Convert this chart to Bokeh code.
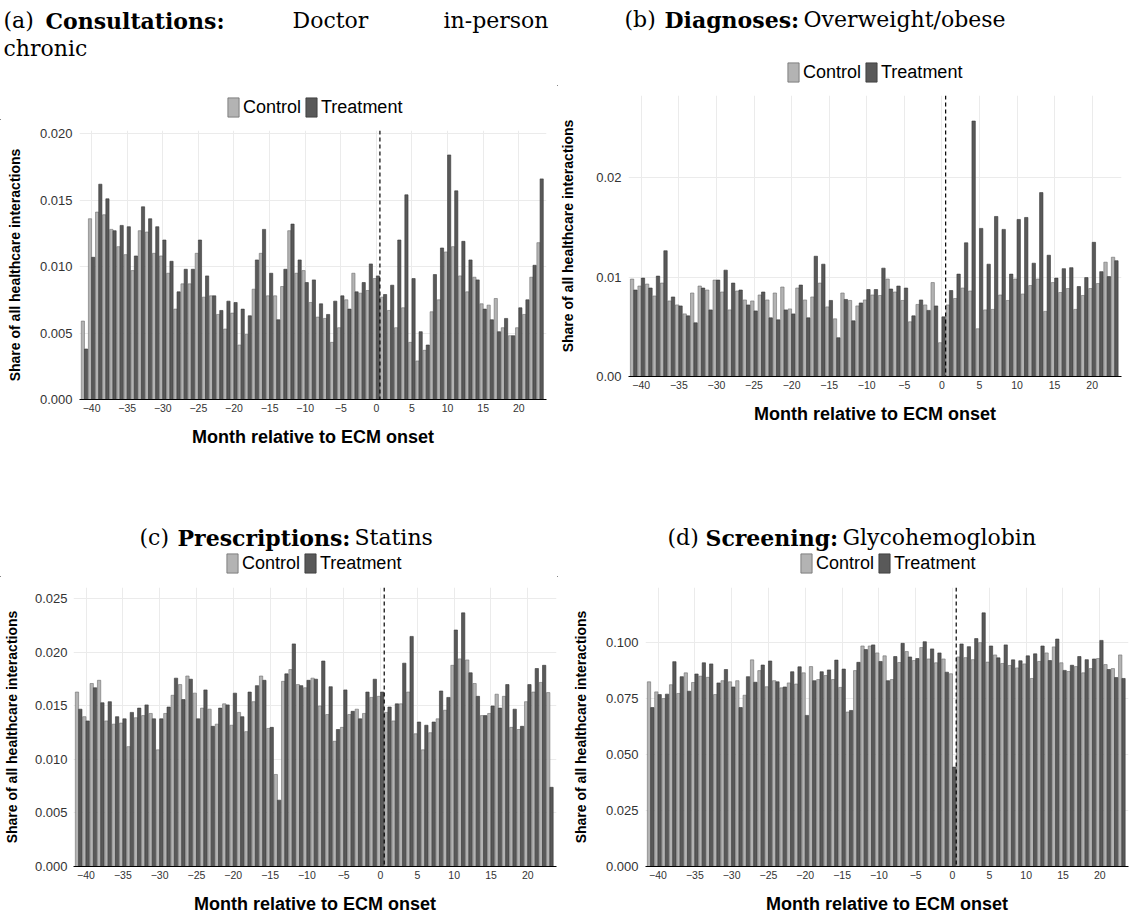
from bokeh.plotting import figure
from bokeh.models import (Range1d, FixedTicker, PrintfTickFormatter, Span, Legend,
                          LegendItem, ColumnDataSource)
from bokeh.layouts import row, column
from bokeh.transform import dodge
from bokeh.core.properties import value
from bokeh.embed import file_html
from bokeh.resources import INLINE

# ---------------- data ----------------
months = list(range(-41, 24))
x_ticks = [-40, -35, -30, -25, -20, -15, -10, -5, 0, 5, 10, 15, 20]

consult_control = [0.0059, 0.0136, 0.0141, 0.0139, 0.0128, 0.0115, 0.0109, 0.0097, 0.0127, 0.0126,
                   0.0110, 0.0108, 0.0095, 0.0068, 0.0087, 0.0087, 0.0110, 0.0077, 0.0078, 0.0064,
                   0.0053, 0.0065, 0.0041, 0.0049, 0.0083, 0.0110, 0.0078, 0.0078, 0.0085, 0.0127,
                   0.0095, 0.0097, 0.0073, 0.0062, 0.0061, 0.0043, 0.0054, 0.0075, 0.0095, 0.0080,
                   0.0082, 0.0091, 0.0077, 0.0067, 0.0054, 0.0069, 0.0043, 0.0029, 0.0037, 0.0066,
                   0.0075, 0.0111, 0.0115, 0.0093, 0.0081, 0.0092, 0.0072, 0.0071, 0.0076, 0.0054,
                   0.0048, 0.0054, 0.0064, 0.0092, 0.0118]
consult_treatment = [0.0038, 0.0107, 0.0162, 0.0151, 0.0127, 0.0131, 0.0130, 0.0108, 0.0145, 0.0136,
                     0.0130, 0.0120, 0.0104, 0.0081, 0.0098, 0.0098, 0.0120, 0.0093, 0.0078, 0.0067,
                     0.0074, 0.0073, 0.0068, 0.0063, 0.0105, 0.0128, 0.0095, 0.0060, 0.0098, 0.0132,
                     0.0105, 0.0088, 0.0090, 0.0072, 0.0064, 0.0074, 0.0078, 0.0068, 0.0081, 0.0088,
                     0.0102, 0.0093, 0.0079, 0.0086, 0.0120, 0.0154, 0.0091, 0.0051, 0.0041, 0.0094,
                     0.0114, 0.0184, 0.0157, 0.0119, 0.0105, 0.0090, 0.0068, 0.0060, 0.0051, 0.0061,
                     0.0048, 0.0069, 0.0075, 0.0101, 0.0166]

diag_control = [0.0098, 0.0091, 0.0093, 0.0081, 0.0094, 0.0076, 0.0072, 0.0063, 0.0084, 0.0091,
                0.0087, 0.0097, 0.0085, 0.0067, 0.0086, 0.0077, 0.0076, 0.0082, 0.0077, 0.0084,
                0.0090, 0.0068, 0.0089, 0.0077, 0.0080, 0.0094, 0.0070, 0.0058, 0.0084, 0.00765,
                0.0071, 0.0077, 0.0082, 0.00815, 0.0098, 0.0085, 0.00765, 0.0055, 0.00725, 0.0072,
                0.00945, 0.0034, 0.0072, 0.00785, 0.0089, 0.0086, 0.0048, 0.0067, 0.00675, 0.0082,
                0.00765, 0.0098, 0.0083, 0.00915, 0.0098, 0.00655, 0.00945, 0.00845, 0.00885, 0.00675,
                0.00815, 0.00885, 0.00935, 0.0115, 0.0120]
diag_treatment = [0.0087, 0.0099, 0.0089, 0.0101, 0.01265, 0.0080, 0.0071, 0.0061, 0.0054, 0.0089,
                  0.0067, 0.0097, 0.0107, 0.0094, 0.0087, 0.0072, 0.0066, 0.0085, 0.0059, 0.0057,
                  0.0067, 0.0063, 0.0092, 0.0059, 0.0121, 0.0113, 0.00765, 0.0039, 0.00775, 0.0056,
                  0.0074, 0.00875, 0.00875, 0.0109, 0.0088, 0.0091, 0.0089, 0.0061, 0.0077, 0.00665,
                  0.0071, 0.0060, 0.00865, 0.0103, 0.01345, 0.0257, 0.0149, 0.0113, 0.0161, 0.0148,
                  0.0103, 0.0158, 0.0160, 0.0114, 0.0185, 0.0122, 0.0099, 0.01085, 0.01095, 0.00905,
                  0.00995, 0.0135, 0.01055, 0.01005, 0.01165]

statin_control = [0.0163, 0.0140, 0.0171, 0.0174, 0.0136, 0.0133, 0.0134, 0.0112, 0.0139, 0.0141,
                  0.0143, 0.0109, 0.0143, 0.0160, 0.0170, 0.0178, 0.0162, 0.0148, 0.0147, 0.0133,
                  0.0152, 0.0132, 0.0144, 0.0126, 0.0154, 0.0178, 0.0129, 0.0086, 0.0173, 0.0184,
                  0.0170, 0.0167, 0.0176, 0.0150, 0.0142, 0.0117, 0.0130, 0.0142, 0.0147, 0.0143,
                  0.0158, 0.0159, 0.0144, 0.0136, 0.0152, 0.0163, 0.0124, 0.0109, 0.0125, 0.0138,
                  0.0146, 0.0188, 0.0194, 0.0193, 0.0171, 0.0141, 0.0143, 0.0161, 0.0159, 0.0130,
                  0.0128, 0.0154, 0.0163, 0.0172, 0.01625]
statin_treatment = [0.0147, 0.0136, 0.0167, 0.0153, 0.0154, 0.0140, 0.0138, 0.0144, 0.0148, 0.0151,
                    0.0138, 0.0138, 0.0149, 0.0176, 0.0156, 0.0175, 0.0138, 0.0165, 0.0131, 0.0148,
                    0.0151, 0.0162, 0.0140, 0.0163, 0.0169, 0.0174, 0.0130, 0.0062, 0.0180, 0.0208,
                    0.0169, 0.0174, 0.0175, 0.0192, 0.0168, 0.0128, 0.0165, 0.0145, 0.0138, 0.0163,
                    0.0175, 0.0163, 0.0149, 0.0152, 0.0190, 0.0215, 0.0135, 0.0132, 0.0135, 0.0164,
                    0.0158, 0.0221, 0.0237, 0.0181, 0.0159, 0.0141, 0.0150, 0.0148, 0.0170, 0.0147,
                    0.0131, 0.0170, 0.0185, 0.0188, 0.0074]

screen_control = [0.0825, 0.0780, 0.0750, 0.0812, 0.0773, 0.0865, 0.0822, 0.0850, 0.0845, 0.0768,
                  0.0830, 0.0825, 0.0830, 0.0765, 0.0923, 0.0875, 0.0803, 0.0830, 0.0798, 0.0820,
                  0.0815, 0.0865, 0.0893, 0.0835, 0.0853, 0.0835, 0.0800, 0.0690, 0.0875, 0.0985,
                  0.0985, 0.0954, 0.0941, 0.0835, 0.0911, 0.0960, 0.0920, 0.0978, 0.0927, 0.0910,
                  0.0927, 0.0861, 0.0936, 0.0933, 0.0924, 0.1000, 0.0913, 0.0945, 0.0907, 0.0898,
                  0.0887, 0.0905, 0.0840, 0.0916, 0.0954, 0.0981, 0.0910, 0.0871, 0.0893, 0.0865,
                  0.0884, 0.0929, 0.0902, 0.0884, 0.0945]
screen_treatment = [0.0710, 0.0768, 0.0770, 0.0915, 0.0848, 0.0783, 0.0860, 0.0910, 0.0905, 0.0820,
                    0.0880, 0.0802, 0.0710, 0.0848, 0.0823, 0.0900, 0.0918, 0.0825, 0.0802, 0.0870,
                    0.0892, 0.0675, 0.0830, 0.0870, 0.0878, 0.0922, 0.0882, 0.0697, 0.0912, 0.0969,
                    0.0990, 0.0916, 0.0830, 0.0938, 0.0997, 0.0936, 0.0929, 0.1004, 0.0972, 0.0954,
                    0.0868, 0.0444, 0.0994, 0.0982, 0.1018, 0.1133, 0.0985, 0.0932, 0.0990, 0.0923,
                    0.0919, 0.0941, 0.0950, 0.0985, 0.0920, 0.1016, 0.0876, 0.0899, 0.0938, 0.0924,
                    0.0927, 0.1010, 0.0880, 0.0844, 0.0840]

ticks_a = [0.0, 0.005, 0.010, 0.015, 0.020]
ticks_b = [0.0, 0.01, 0.02]
ticks_c = [0.0, 0.005, 0.010, 0.015, 0.020, 0.025]
ticks_d = [0.0, 0.025, 0.050, 0.075, 0.100]

# ---------------- style ----------------
LIGHT = "#b3b3b3"
DARK = "#595959"
LIGHT_LINE = "#6e6e6e"
DARK_LINE = "#383838"
SANS = "Liberation Sans"
SERIF = "DejaVu Serif"


def make_plot(ctrl, trt, width, height, mbl, mbr, mbt, mbb, yticks, yfmt,
              ylab_standoff=14, ymaj_standoff=7):
    assert len(ctrl) == len(months) == len(trt)
    p = figure(width=width, height=height, x_range=Range1d(-41.7, 23.9),
               y_range=Range1d(0, 1.1 * max(ctrl + trt)), output_backend="svg",
               toolbar_location=None, min_border_left=mbl, min_border_right=mbr,
               min_border_top=mbt, min_border_bottom=mbb)
    p.outline_line_color = None
    p.background_fill_color = "white"
    p.border_fill_color = "white"
    src = ColumnDataSource(dict(month=months, control=ctrl, treatment=trt))
    p.vbar(x=dodge("month", -0.225, range=p.x_range), top="control", width=0.45,
           source=src, fill_color=LIGHT, line_color=LIGHT_LINE, line_width=0.6)
    p.vbar(x=dodge("month", 0.225, range=p.x_range), top="treatment", width=0.45,
           source=src, fill_color=DARK, line_color=DARK_LINE, line_width=0.6)
    p.add_layout(Span(location=0.5, dimension="height", line_color="black",
                      line_dash="4 3", line_width=1.2))
    p.xaxis.ticker = FixedTicker(ticks=x_ticks)
    p.xgrid.ticker = FixedTicker(ticks=x_ticks)
    p.yaxis.ticker = FixedTicker(ticks=yticks)
    p.ygrid.ticker = FixedTicker(ticks=yticks)
    p.yaxis.formatter = PrintfTickFormatter(format=yfmt)
    p.grid.grid_line_color = "#ebebeb"
    p.grid.grid_line_width = 1
    for ax in (p.xaxis[0], p.yaxis[0]):
        ax.major_tick_line_color = None
        ax.minor_tick_line_color = None
        ax.major_tick_out = 0
        ax.minor_tick_out = 0
        ax.major_tick_in = 0
        ax.minor_tick_in = 0
        ax.major_label_text_font = SANS
        ax.major_label_text_color = "#333333"
        ax.axis_label_text_font = SANS
        ax.axis_label_text_font_style = "bold"
        ax.axis_label_text_color = "black"
    p.yaxis.axis_line_color = None
    p.xaxis.axis_line_color = "black"
    p.xaxis.axis_line_width = 1
    p.xaxis.major_label_text_font_size = "10.5px"
    p.yaxis.major_label_text_font_size = "13px"
    p.xaxis.axis_label = "Month relative to ECM onset"
    p.xaxis.axis_label_text_font_size = "18px"
    p.yaxis.axis_label = "Share of all healthcare interactions"
    p.yaxis.axis_label_text_font_size = "14px"
    p.xaxis.major_label_standoff = 4
    p.xaxis.axis_label_standoff = 12
    p.yaxis.major_label_standoff = ymaj_standoff
    p.yaxis.axis_label_standoff = ylab_standoff
    return p


def make_header(width, height, pieces, legend_xy):
    h = figure(width=width, height=height, x_range=Range1d(0, width),
               y_range=Range1d(0, height), output_backend="svg", toolbar_location=None,
               x_axis_type=None, y_axis_type=None, min_border=0,
               min_border_left=0, min_border_right=0, min_border_top=0, min_border_bottom=0)
    h.outline_line_color = None
    h.grid.visible = False
    h.background_fill_color = "white"
    h.border_fill_color = "white"
    for (x, y, txt, bold, align) in pieces:
        h.text(x=[x], y=[y], text=[txt], text_font=value(SERIF),
               text_font_style="bold" if bold else "normal", text_font_size="22px",
               text_color="black", text_baseline="alphabetic", text_align=align)
    # legend swatches: renderers whose single bar lies outside the visible range
    lc = h.vbar(x=[-1000], top=[1], width=1, fill_color=LIGHT, line_color=LIGHT_LINE,
                line_width=0.8)
    lt = h.vbar(x=[-1000], top=[1], width=1, fill_color=DARK, line_color=DARK_LINE,
                line_width=0.8)
    leg = Legend(items=[LegendItem(label="Control", renderers=[lc]),
                        LegendItem(label="Treatment", renderers=[lt])],
                 location=legend_xy, orientation="horizontal",
                 glyph_width=14, glyph_height=24, label_height=24,
                 label_standoff=3, spacing=3, padding=0, margin=0,
                 label_text_font=SANS, label_text_font_size="18px",
                 label_text_color="black",
                 border_line_alpha=0, background_fill_alpha=0)
    h.add_layout(leg)
    return h


# panel (a): x 0..557 ; header y 0..120 ; plot y 120..466 (frame 79..546 x 130..399)
hA = make_header(557, 120, [
    (3, 100, "(a)", False, "left"),
    (45, 100, "Consultations:", True, "left"),
    (292, 100, "Doctor", False, "left"),
    (548, 100, "in-person", False, "right"),
    (3, 72, "chronic", False, "left"),
], (226, 1))
pA = make_plot(consult_control, consult_treatment, 557, 346, 79, 11, 10, 67, ticks_a, "%.3f")

# panel (b): x 557..1136 ; header y 0..86 ; plot y 86..466 (frame 626..1121 x 95..376)
hB = make_header(579, 86, [
    (67, 67, "(b)", False, "left"),
    (107, 67, "Diagnoses:", True, "left"),
    (246, 67, "Overweight/obese", False, "left"),
], (229, 2))
pB = make_plot(diag_control, diag_treatment, 579, 380, 69, 15, 9, 90, ticks_b, "%.2f",
               ylab_standoff=17)

# panel (c): x 0..557 ; header y 466..577 ; plot y 577..919 (frame 69..556 x 587..866)
hC = make_header(557, 111, [
    (139, 40, "(c)", False, "left"),
    (177, 40, "Prescriptions:", True, "left"),
    (354, 40, "Statins", False, "left"),
], (225, 2))
pC = make_plot(statin_control, statin_treatment, 557, 342, 69, 1, 10, 53, ticks_c, "%.3f",
               ylab_standoff=12, ymaj_standoff=6)

# panel (d): x 557..1136 ; header y 466..577 ; plot y 577..919 (frame 645..1128 x 587..866)
hD = make_header(579, 111, [
    (110, 40, "(d)", False, "left"),
    (148, 40, "Screening:", True, "left"),
    (285, 40, "Glycohemoglobin", False, "left"),
], (242, 2))
pD = make_plot(screen_control, screen_treatment, 579, 342, 88, 8, 10, 53, ticks_d, "%.3f")

layout = column(row(column(row(hA), row(pA)), column(row(hB), row(pB))),
                row(column(row(hC), row(pC)), column(row(hD), row(pD))))

open("out.html", "w").write(file_html(layout, INLINE))
